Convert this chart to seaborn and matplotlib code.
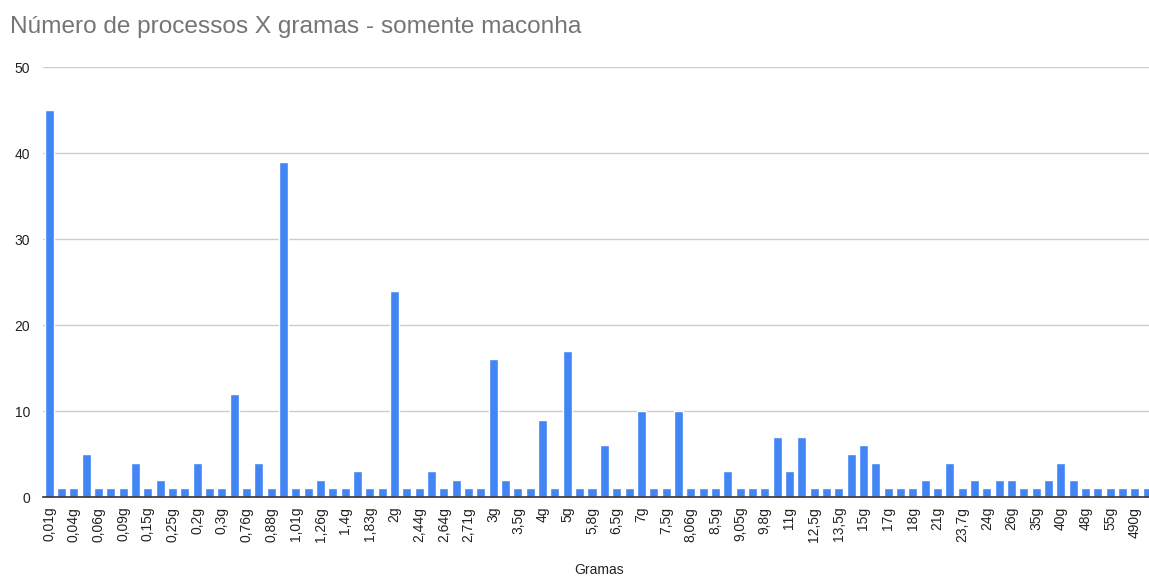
import numpy as np
import pandas as pd
import matplotlib
matplotlib.use("Agg")
import matplotlib.pyplot as plt
import seaborn as sns

title = "Número de processos X gramas - somente maconha"
x_title = "Gramas"

# counts for each of the 90 weight categories (in chart order)
values = [45, 1, 1, 5, 1, 1, 1, 4, 1, 2,
          1, 1, 4, 1, 1, 12, 1, 4, 1, 39,
          1, 1, 2, 1, 1, 3, 1, 1, 24, 1,
          1, 3, 1, 2, 1, 1, 16, 2, 1, 1,
          9, 1, 17, 1, 1, 6, 1, 1, 10, 1,
          1, 10, 1, 1, 1, 3, 1, 1, 1, 7,
          3, 7, 1, 1, 1, 5, 6, 4, 1, 1,
          1, 2, 1, 4, 1, 2, 1, 2, 2, 1,
          1, 2, 4, 2, 1, 1, 1, 1, 1, 1]

# visible tick labels (every other category)
tick_labels = ["0,01g", "0,04g", "0,06g", "0,09g", "0,15g", "0,25g", "0,2g", "0,3g",
               "0,76g", "0,88g", "1,01g", "1,26g", "1,4g", "1,83g", "2g", "2,44g",
               "2,64g", "2,71g", "3g", "3,5g", "4g", "5g", "5,8g", "6,5g", "7g",
               "7,5g", "8,06g", "8,5g", "9,05g", "9,8g", "11g", "12,5g", "13,5g",
               "15g", "17g", "18g", "21g", "23,7g", "24g", "26g", "35g", "40g",
               "48g", "55g", "490g"]
y_ticks = [0, 10, 20, 30, 40, 50]

sns.set_theme(style="white")
plt.rcParams['font.family'] = ['Liberation Sans', 'DejaVu Sans']

df = pd.DataFrame({"idx": np.arange(len(values)), "count": values})

fig = plt.figure(figsize=(11.49, 5.77), dpi=100)
ax = fig.add_axes([0.0373, 0.1386, 0.9666, 0.7452])

sns.barplot(data=df, x="idx", y="count", color="#4285F4", saturation=1,
            width=0.73, ax=ax, zorder=3)

ax.set_ylim(0, 50)
ax.set_xlim(-0.5, len(values) - 0.5)
ax.set_yticks(y_ticks)
ax.set_yticklabels([str(t) for t in y_ticks], fontsize=10, color="#222222")
ax.set_xticks(np.arange(0, len(values), 2))
ax.set_xticklabels(tick_labels, rotation=90, fontsize=10, color="#222222")
ax.tick_params(axis="both", length=0)
ax.tick_params(axis="y", pad=9)
ax.tick_params(axis="x", pad=7)

ax.yaxis.grid(True, color="#cccccc", linewidth=1, zorder=0)
ax.xaxis.grid(False)
for s in ["top", "right", "left"]:
    ax.spines[s].set_visible(False)
ax.spines["bottom"].set_color("#333333")
ax.spines["bottom"].set_linewidth(1.2)
ax.spines["bottom"].set_zorder(4)

ax.set_ylabel("")
ax.set_xlabel("")
fig.text(599 / 1149, 1 - 570 / 577, x_title, ha="center", va="center",
         fontsize=10, color="#222222")
fig.text(10 / 1149, 1 - 27 / 577, title, ha="left", va="center",
         fontsize=17.6, color="#757575")

fig.savefig("out.png", dpi=100)
